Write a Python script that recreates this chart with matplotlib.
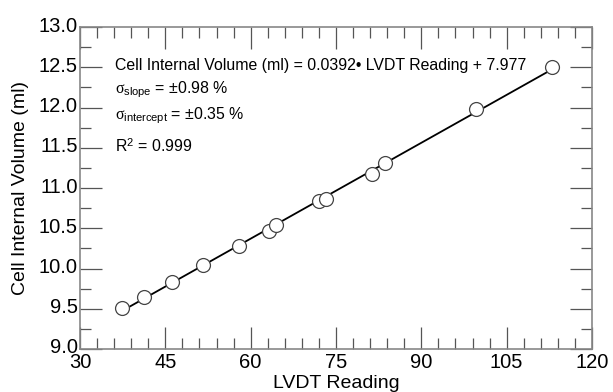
import numpy as np
import matplotlib
matplotlib.use("Agg")
import matplotlib.pyplot as plt
import matplotlib.transforms as mtransforms
from matplotlib.ticker import MultipleLocator, FormatStrFormatter

plt.rcParams['font.family'] = ['Liberation Sans', 'DejaVu Sans']
plt.rcParams['mathtext.fontset'] = 'custom'
plt.rcParams['mathtext.rm'] = 'Liberation Sans'
plt.rcParams['mathtext.it'] = 'Liberation Serif'

lvdt = [37.3, 41.3, 46.2, 51.7, 57.95, 63.3, 64.4, 72.0, 73.2, 81.4, 83.6, 99.55, 112.9]
volume = [9.506, 9.65, 9.836, 10.04, 10.28, 10.47, 10.54, 10.84, 10.86, 11.17, 11.31, 11.98, 12.5]

fit = np.polyfit(lvdt, volume, 1)
xfit = np.array([min(lvdt), max(lvdt)])

fig = plt.figure(figsize=(6.13, 3.92), dpi=100)
ax = fig.add_axes([0.1305, 0.1097, 0.8352, 0.8213])

ax.plot(xfit, np.polyval(fit, xfit), color="black", lw=1.3, zorder=2)
ax.plot(lvdt, volume, "o", ms=10, mfc="white", mec="#444444", mew=0.9, zorder=3)

ax.set_xlim(30, 120)
ax.set_ylim(9.0, 13.0)
ax.xaxis.set_major_locator(MultipleLocator(15))
ax.xaxis.set_minor_locator(MultipleLocator(3))
ax.yaxis.set_major_locator(MultipleLocator(0.5))
ax.yaxis.set_minor_locator(MultipleLocator(0.25))
ax.yaxis.set_major_formatter(FormatStrFormatter("%.1f"))

ax.tick_params(which="both", direction="in", top=True, right=True,
               color="#555555", width=0.9, labelsize=14.5, pad=1.5)
ax.tick_params(axis="x", which="major", pad=3)
ax.tick_params(which="major", length=16)
ax.tick_params(which="minor", length=8)
for s in ax.spines.values():
    s.set_color("#888888")
    s.set_linewidth(1.2)

# nudge y tick labels up a little, as in the original
shift = mtransforms.ScaledTranslation(0, 3 / 100, fig.dpi_scale_trans)
for lab in ax.get_yticklabels():
    lab.set_transform(lab.get_transform() + shift)

ax.set_xlabel("LVDT Reading", fontsize=14)
ax.set_ylabel("Cell Internal Volume (ml)", fontsize=14)
ax.xaxis.set_label_coords(0.5, -0.08)
ax.yaxis.set_label_coords(-0.10, 0.5)

fs = 11.4
tx = 36.2
ax.text(tx, 12.52, "Cell Internal Volume (ml) = 0.0392\u2022 LVDT Reading + 7.977",
        fontsize=fs, va="center")
ax.text(tx, 12.22, r"$\sigma_{\rm slope}$ = " + "\u00b10.98 %", fontsize=fs, va="center")
ax.text(tx, 11.9, r"$\sigma_{\rm intercept}$ = " + "\u00b10.35 %", fontsize=fs, va="center")
ax.text(tx, 11.52, r"R$^2$ = 0.999", fontsize=fs, va="center")

plt.savefig("out.png", dpi=100)
